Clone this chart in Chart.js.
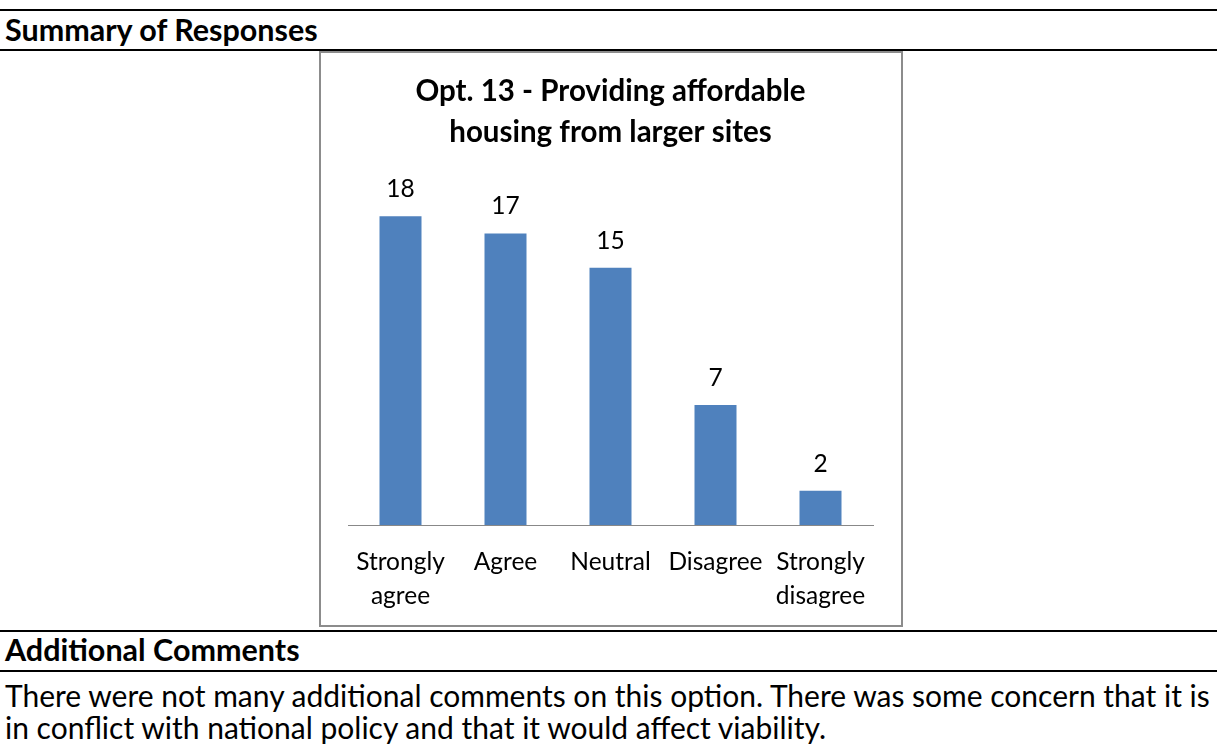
<!DOCTYPE html>
<html>
<head>
<meta charset="utf-8">
<script src="https://cdn.jsdelivr.net/npm/chart.js@4.4.0/dist/chart.umd.min.js"></script>
<style>
  body { margin: 0; background: #fff; width: 1217px; height: 745px; position: relative; overflow: hidden; font-family: Lato, "Open Sans", sans-serif; color: #000; }
  .rule { position: absolute; left: 0; width: 1217px; height: 2px; background: #000; }
  .head { position: absolute; left: 5px; font-weight: bold; font-size: 30.5px; line-height: 30px; white-space: nowrap; }
  .para { position: absolute; left: 5px; top: 679px; font-size: 30px; line-height: 32px; white-space: nowrap; }
  #box { position: absolute; left: 319px; top: 51px; width: 584px; height: 576px; border: 2px solid #8c8c8c; box-sizing: border-box; }
  #box canvas { display: block; }
</style>
</head>
<body>
<div class="rule" style="top:9px"></div>
<div class="head" style="top:14px">Summary of Responses</div>
<div class="rule" style="top:49px"></div>
<div id="box"><canvas id="myChart" width="580" height="572"></canvas></div>
<div class="rule" style="top:630px"></div>
<div class="head" style="top:634px">Additional Comments</div>
<div class="rule" style="top:670px"></div>
<div class="para">There were not many additional comments on this option. There was some concern that it is<br>in conflict with national policy and that it would affect viability.</div>

<script>
const chartTitle = ['Opt. 13 - Providing affordable', 'housing from larger sites'];
const categories = [['Strongly', 'agree'], 'Agree', 'Neutral', 'Disagree', ['Strongly', 'disagree']];
const responses = [18, 17, 15, 7, 2];

// write the value above each bar
const barValues = {
    id: 'barValues',
    afterDatasetsDraw(chart) {
        const ctx = chart.ctx;
        ctx.save();
        ctx.font = '24.5px Lato';
        ctx.fillStyle = '#000';
        ctx.textAlign = 'center';
        ctx.textBaseline = 'middle';
        chart.getDatasetMeta(0).data.forEach(function (bar, i) {
            ctx.fillText(String(chart.data.datasets[0].data[i]), bar.x, bar.y - 27);
        });
        ctx.restore();
    }
};

new Chart(document.getElementById('myChart'), {
    type: 'bar',
    data: {
        labels: categories,
        datasets: [{
            data: responses,
            backgroundColor: '#4f81bd',
            barPercentage: 0.8,
            categoryPercentage: 0.5
        }]
    },
    options: {
        responsive: false,
        animation: false,
        layout: { padding: { left: 27, right: 28, top: 0, bottom: 14 } },
        plugins: {
            legend: { display: false },
            tooltip: { enabled: false },
            title: {
                display: true,
                text: chartTitle,
                color: '#000',
                font: { family: 'Lato', size: 29.5, weight: 'bold', lineHeight: 1.39 },
                padding: { top: 18, bottom: 29 }
            }
        },
        scales: {
            x: {
                grid: { display: false, drawTicks: false },
                border: { display: true, color: '#888', width: 1 },
                ticks: {
                    color: '#000',
                    padding: 21,
                    maxRotation: 0,
                    autoSkip: false,
                    font: { family: 'Lato', size: 24.5, lineHeight: 1.35 }
                },
                afterFit(scale) {
                    scale.height = 86;
                }
            },
            y: {
                display: false,
                min: 0,
                max: 20
            }
        }
    },
    plugins: [barValues]
});
</script>
</body>
</html>
